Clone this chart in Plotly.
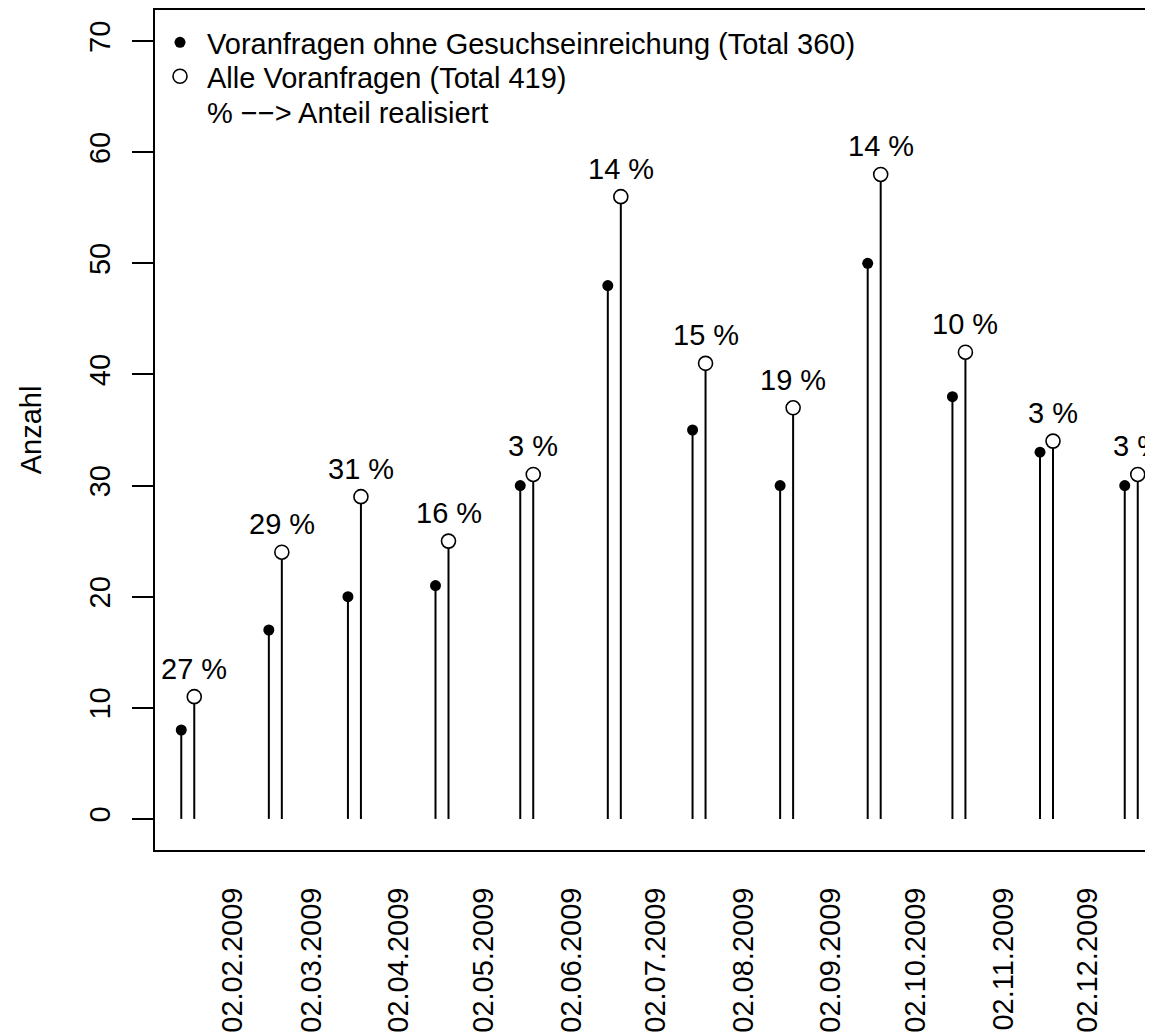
import pandas as pd
import plotly.graph_objects as go

# ---- data ----
months = ["2009-01-01", "2009-02-01", "2009-03-01", "2009-04-01", "2009-05-01", "2009-06-01",
          "2009-07-01", "2009-08-01", "2009-09-01", "2009-10-01", "2009-11-01", "2009-12-01"]
ohne_gesuch = [8, 17, 20, 21, 30, 48, 35, 30, 50, 38, 33, 30]
alle_voranfragen = [11, 24, 29, 25, 31, 56, 41, 37, 58, 42, 34, 31]
anteil_labels = ["27 %", "29 %", "31 %", "16 %", "3 %", "14 %", "15 %", "19 %", "14 %", "10 %", "3 %", "3 %"]
tick_dates = ["2009-02-02", "2009-03-02", "2009-04-02", "2009-05-02", "2009-06-02", "2009-07-02",
              "2009-08-02", "2009-09-02", "2009-10-02", "2009-11-02", "2009-12-02"]
tick_labels = ["02.02.2009", "02.03.2009", "02.04.2009", "02.05.2009", "02.06.2009", "02.07.2009",
               "02.08.2009", "02.09.2009", "02.10.2009", "02.11.2009", "02.12.2009"]
name_ohne = "Voranfragen ohne Gesuchseinreichung (Total 360)"
name_alle = "Alle Voranfragen (Total 419)"
name_note = "% \u2212\u2212> Anteil realisiert"

FONT = "Liberation Sans, Arial, Helvetica, sans-serif"
FS = 29

base = pd.to_datetime(months)
x_ohne = base + pd.Timedelta(days=14)
x_alle = base + pd.Timedelta(days=18.6)


def stems(xs, ys):
    X, Y = [], []
    for x, y in zip(xs, ys):
        s = x.strftime("%Y-%m-%d %H:%M")
        X += [s, s, None]
        Y += [0, y, None]
    return X, Y


fig = go.Figure()
sx, sy = stems(x_ohne, ohne_gesuch)
fig.add_trace(go.Scatter(x=sx, y=sy, mode="lines", line=dict(color="black", width=2),
                         showlegend=False, hoverinfo="skip"))
sx, sy = stems(x_alle, alle_voranfragen)
fig.add_trace(go.Scatter(x=sx, y=sy, mode="lines", line=dict(color="black", width=2),
                         showlegend=False, hoverinfo="skip"))
fig.add_trace(go.Scatter(x=x_ohne, y=ohne_gesuch, mode="markers", name=name_ohne,
                         legend="legend",
                         marker=dict(color="black", size=11, symbol="circle")))
fig.add_trace(go.Scatter(x=x_alle, y=alle_voranfragen, mode="markers", name=name_alle,
                         legend="legend2",
                         marker=dict(color="white", size=14, symbol="circle",
                                     line=dict(color="black", width=1.6))))
fig.add_trace(go.Scatter(x=[None], y=[None], mode="markers", name=name_note,
                         legend="legend3",
                         marker=dict(color="rgba(0,0,0,0)", size=1)))

for x, y, t in zip(x_alle, alle_voranfragen, anteil_labels):
    fig.add_annotation(x=x, y=y, text=t, showarrow=False, yanchor="bottom", xanchor="center",
                       yshift=10, font=dict(family=FONT, size=FS, color="black"))

fig.add_annotation(text="Anzahl", xref="paper", yref="paper", x=-0.124, y=0.5,
                   textangle=-90, showarrow=False, xanchor="center", yanchor="middle",
                   font=dict(family=FONT, size=FS, color="black"))

ref = pd.Timestamp("2009-02-02")
fig.update_xaxes(type="date",
                 range=[ref - pd.Timedelta(days=27.3), ref + pd.Timedelta(days=326)],
                 tickvals=tick_dates, ticktext=tick_labels, tickangle=-90,
                 ticks="", ticklabelstandoff=24,
                 showline=True, linecolor="black", linewidth=2, mirror=True,
                 showgrid=False, zeroline=False,
                 tickfont=dict(family=FONT, size=FS, color="black"))
fig.update_yaxes(range=[-2.8, 72.8], tickvals=[0, 10, 20, 30, 40, 50, 60, 70],
                 tickangle=-90, ticks="outside", ticklen=21, tickwidth=2, tickcolor="black",
                 ticklabelstandoff=10,
                 showline=True, linecolor="black", linewidth=2, mirror=False,
                 showgrid=False, zeroline=False,
                 tickfont=dict(family=FONT, size=FS, color="black"))

leg_common = dict(xanchor="left", yanchor="top", bgcolor="rgba(0,0,0,0)", borderwidth=0,
                  font=dict(family=FONT, size=FS, color="black"), itemwidth=44)
fig.update_layout(width=1145, height=1027,
                  margin=dict(l=147, r=0, t=0, b=185),
                  plot_bgcolor="white", paper_bgcolor="white",
                  font=dict(family=FONT, size=FS, color="black"),
                  legend=dict(x=-0.002, y=0.9917, **leg_common),
                  legend2=dict(x=-0.002, y=0.9513, **leg_common),
                  legend3=dict(x=-0.002, y=0.9086, **leg_common),
                  showlegend=True)

fig.write_html("out.html")
